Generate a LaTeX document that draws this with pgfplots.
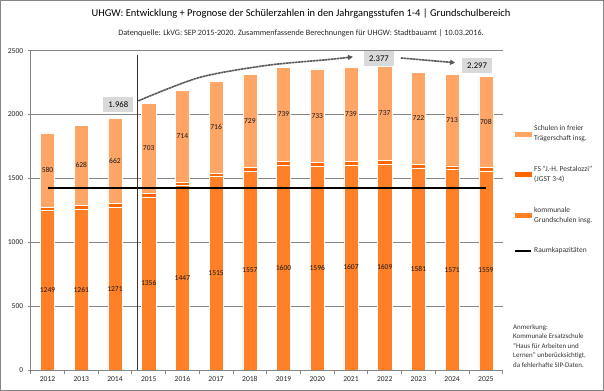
\documentclass[border=0pt]{standalone}
\usepackage{pgfplots}
\pgfplotsset{compat=1.18}
\usepackage{pgfplotstable}
\usepackage{fontspec}
\setmainfont{Carlito}
\usetikzlibrary{arrows.meta}
\definecolor{cLight}{RGB}{255,166,102}
\definecolor{cMid}{RGB}{255,128,38}
\definecolor{cDark}{RGB}{255,102,0}
\definecolor{cGrid}{RGB}{134,134,134}
\definecolor{cArrow}{RGB}{89,89,89}
\definecolor{cBox}{RGB}{217,217,217}
\pgfplotstableread{
x k fs fr
0 1249 27 580
1 1261 29 628
2 1271 35 662
3 1356 28 703
4 1447 26 714
5 1515 26 716
6 1557 30 729
7 1600 32 739
8 1596 28 733
9 1607 28 739
10 1609 31 737
11 1581 30 722
12 1571 28 713
13 1559 30 708
}\data
\begin{document}
\begin{tikzpicture}
\useasboundingbox (0,0) rectangle (604bp,391bp);
\draw[cGrid, line width=0.8bp] (0.5bp,0.5bp) rectangle (603.5bp,390.5bp);
\node[font=\fontsize{10.5}{12}\selectfont] at (301bp,377bp) {UHGW: Entwicklung + Prognose der Schülerzahlen in den Jahrgangsstufen 1-4 | Grundschulbereich};
\node[font=\fontsize{8.2}{9}\selectfont, text=black!85] at (301bp,358bp) {Datenquelle: LkVG: SEP 2015-2020. Zusammenfassende Berechnungen für UHGW: Stadtbauamt | 10.03.2016.};
\begin{axis}[
  at={(30.7bp,21bp)}, anchor=south west,
  scale only axis, width=472bp, height=319.3bp,
  xmin=-0.5, xmax=13.5, ymin=0, ymax=2500,
  ybar stacked, bar width=0.42,
  xtick={0,...,13},
  xticklabels={2012,2013,2014,2015,2016,2017,2018,2019,2020,2021,2022,2023,2024,2025},
  major x tick style={draw=none},
  minor xtick={-0.5,0.5,...,13.5},
  ytick={0,500,...,2500},
  ymajorgrids, grid style={cGrid, line width=0.7bp},
  axis x line*=bottom, axis y line*=left,
  axis line style={cGrid, line width=0.8bp, -},
  tick align=outside,
  minor tick length=4bp, major tick length=3bp,
  every tick/.style={cGrid, line width=0.7bp},
  ticklabel style={font=\fontsize{7.6}{8}\selectfont, text=black!85},
  yticklabel style={xshift=-1bp},
  /pgf/number format/assume math mode=true,
  /pgf/number format/1000 sep={},
]
\addplot[fill=cMid, draw=white, line width=0.5bp,
  nodes near coords, point meta=explicit,
  every node near coord/.style={font=\fontsize{7.6}{8}\selectfont, text=black!90, anchor=center}]
  table[x=x, y=k, meta=k] {\data};
\addplot[fill=cDark, draw=white, line width=0.5bp] table[x=x, y=fs] {\data};
\addplot[fill=cLight, draw=white, line width=0.5bp,
  nodes near coords, point meta=explicit,
  every node near coord/.style={font=\fontsize{7.6}{8}\selectfont, text=black!90, anchor=center}]
  table[x=x, y=fr, meta=fr] {\data};
\end{axis}
\begin{axis}[
  at={(30.7bp,21bp)}, anchor=south west,
  scale only axis, width=472bp, height=319.3bp,
  xmin=-0.5, xmax=13.5, ymin=0, ymax=2500,
  axis lines=none, clip=false,
  legend style={at={(1.024,0.772)}, anchor=north west, draw=none, fill=none,
    inner sep=0pt, font=\fontsize{7.5}{10}\selectfont, text=black!80,
    cells={align=left, anchor=west},
    row sep=20bp, /tikz/every even column/.style={column sep=1bp}},
]
\addlegendimage{legend image code/.code={\fill[cLight] (0bp,-2bp) rectangle (16bp,2bp);}}
\addlegendentry{Schulen in freier\\Trägerschaft insg.}
\addlegendimage{legend image code/.code={\fill[cDark] (0bp,-2bp) rectangle (16bp,2bp);}}
\addlegendentry{FS "J.-H. Pestalozzi"\\(JGST 3-4)}
\addlegendimage{legend image code/.code={\fill[cMid] (0bp,-2bp) rectangle (16bp,2bp);}}
\addlegendentry{kommunale\\Grundschulen insg.}
\addplot[black, line width=2bp, legend image code/.code={\draw[black, line width=2bp] (0bp,0bp) -- (16bp,0bp);}] coordinates {(0,1428) (13,1428)};
\addlegendentry{Raumkapazitäten}
\draw[black!80, line width=0.8bp] (2.67,0) -- (2.67,2467);
\draw[cArrow, line width=1.6bp, dash pattern=on 2.5bp off 0.5bp, -{Triangle[length=5bp,width=5bp]}]
  plot[smooth] coordinates {(2.69,2107) (4.5,2290) (6.5,2385) (8.3,2430) (9.06,2452)};
\draw[cArrow, line width=1.6bp, dash pattern=on 2.5bp off 0.5bp, -{Triangle[length=5bp,width=5bp]}]
  (10.48,2443) -- (12.09,2406);
\node[fill=cBox, minimum width=30bp, minimum height=15bp, inner sep=0pt, font=\fontsize{8.7}{10}\selectfont] at (2.10,2075) {1.968};
\node[fill=cBox, minimum width=30bp, minimum height=15bp, inner sep=0pt, font=\fontsize{8.7}{10}\selectfont] at (9.83,2441) {2.377};
\node[fill=cBox, minimum width=30bp, minimum height=15bp, inner sep=0pt, font=\fontsize{8.7}{10}\selectfont] at (12.74,2384) {2.297};
\end{axis}
\node[anchor=north west, align=left, inner sep=0pt, font=\fontsize{7}{9.6}\selectfont, text=black!80] at (513bp,67bp) {Anmerkung:\\Kommunale Ersatzschule\\"Haus für Arbeiten und\\Lernen" unberücksichtigt,\\da fehlerhafte SIP-Daten.};
\end{tikzpicture}
\end{document}
